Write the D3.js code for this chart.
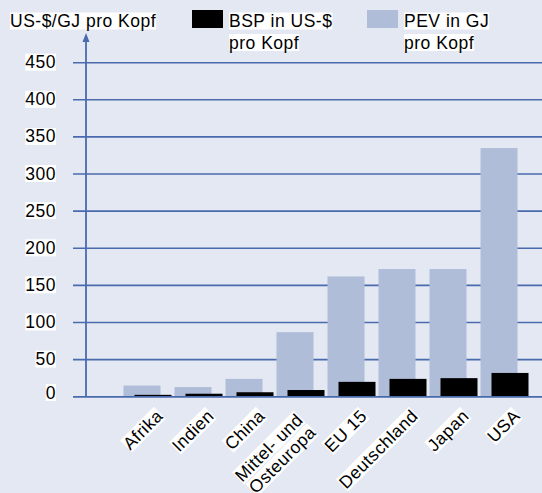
<!DOCTYPE html>
<html>
<head>
<meta charset="utf-8">
<script src="https://cdn.jsdelivr.net/npm/d3@7"></script>
<style>
  html, body { margin: 0; padding: 0; background: #e4e8f2; }
  svg { display: block; }
  text { font-family: "Liberation Sans", Arial, sans-serif; font-size: 17.5px; letter-spacing: 0.5px; fill: #000; }
</style>
</head>
<body>
<svg id="chart" width="542" height="493"></svg>
<script>
// ---- data ----
const categories = ["Afrika", "Indien", "China", "Mittel- und\nOsteuropa", "EU 15", "Deutschland", "Japan", "USA"];
const pevValues = [15, 13, 24, 87, 162, 172, 172, 335];   // PEV in GJ pro Kopf
const bspValues = [2.5, 4, 6, 9, 20, 24, 25, 32];        // BSP in US-$ pro Kopf
const yTicks = [0, 50, 100, 150, 200, 250, 300, 350, 400, 450];
const yTitle = "US-$/GJ pro Kopf";
const legendItems = [
  { label: ["BSP in US-$", "pro Kopf"], color: "#000000" },
  { label: ["PEV in GJ", "pro Kopf"], color: "#afbdd9" }
];

// ---- layout ----
const W = 542, H = 493;
const axisX = 86;
const gridX0 = 73;
const y0 = 396.7, yTop = 62.7;
const colors = { bg: "#e4e8f2", pev: "#afbdd9", bsp: "#000000", grid: "#4a6aae" };

const svg = d3.select("#chart");
svg.append("rect").attr("width", W).attr("height", H).attr("fill", colors.bg);

const y = d3.scaleLinear().domain([0, 450]).range([y0, yTop]);
const x = d3.scaleBand().domain(categories).range([122.5, 530.5]).padding(0);
const bw = x.bandwidth();

function whiteBg(textSel, pad) {
  textSel.each(function () {
    const b = this.getBBox();
    d3.select(this.parentNode).insert("rect", () => this)
      .attr("x", b.x - pad).attr("y", b.y + 1.5)
      .attr("width", b.width + 2 * pad).attr("height", b.height - 3)
      .attr("fill", "#fff");
  });
}

// gridlines
svg.append("g").selectAll("line").data(yTicks).join("line")
  .attr("x1", gridX0).attr("x2", W)
  .attr("y1", d => y(d)).attr("y2", d => y(d))
  .attr("stroke", colors.grid).attr("stroke-width", 1.6);

// tick labels
const tl = svg.append("g").selectAll("g").data(yTicks).join("g");
tl.append("text")
  .attr("x", 56).attr("y", d => Math.min(y(d) + 5.5, 398.5))
  .attr("text-anchor", "end")
  .text(d => d)
  .call(whiteBg, 0);

// PEV bars (light)
svg.append("g").selectAll("rect").data(pevValues).join("rect")
  .attr("x", (d, i) => x(categories[i]) + 1)
  .attr("width", 37)
  .attr("y", d => y(d))
  .attr("height", d => y(0) - y(d))
  .attr("fill", colors.pev);

// BSP bars (black)
svg.append("g").selectAll("rect").data(bspValues).join("rect")
  .attr("x", (d, i) => x(categories[i]) + 12)
  .attr("width", 37)
  .attr("y", d => y(d))
  .attr("height", d => y(0) - y(d))
  .attr("fill", colors.bsp);

// redraw baseline on top
svg.append("line").attr("x1", gridX0).attr("x2", W)
  .attr("y1", y(0)).attr("y2", y(0))
  .attr("stroke", colors.grid).attr("stroke-width", 1.6);

// y axis with arrow
svg.append("line").attr("x1", axisX).attr("x2", axisX)
  .attr("y1", 40).attr("y2", y(0))
  .attr("stroke", colors.grid).attr("stroke-width", 1.8);
svg.append("path")
  .attr("d", `M${axisX},33 L${axisX + 3.5},42 L${axisX - 3.5},42 Z`)
  .attr("fill", colors.grid);

// y title
const tg = svg.append("g");
tg.append("text").attr("x", 10).attr("y", 27).text(yTitle).call(whiteBg, 0);

// legend
const lx = [192, 367];
legendItems.forEach((it, i) => {
  const g = svg.append("g");
  g.append("rect").attr("x", lx[i]).attr("y", 10).attr("width", 31).attr("height", 18).attr("fill", it.color);
  it.label.forEach((line, j) => {
    g.append("text").attr("x", lx[i] + 37).attr("y", 27 + j * 21.5).text(line).call(whiteBg, 0);
  });
});

// x labels rotated
categories.forEach((c, i) => {
  const cx = x(c) + bw / 2;
  const lines = c.split("\n");
  lines.forEach((line, j) => {
    let ax, ay;
    if (lines.length === 1) { ax = cx + 16; ay = 417; }
    else { ax = cx + 3 + j * 13; ay = 421 + j * 12.5; }
    const g = svg.append("g").attr("transform", `translate(${ax},${ay}) rotate(-45)`);
    g.append("text").attr("x", 0).attr("y", 0)
      .attr("text-anchor", "end").text(line).call(whiteBg, 0);
  });
});
</script>
</body>
</html>
